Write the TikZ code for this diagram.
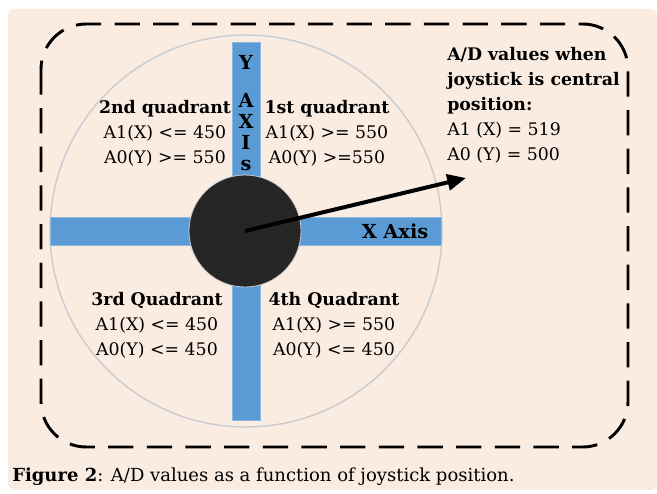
\documentclass[tikz,border=0pt]{standalone}
\usepackage{fontspec}
\setmainfont{DejaVu Serif}
\usetikzlibrary{arrows.meta,positioning}
\definecolor{pagefill}{HTML}{FBECE2}
\definecolor{axisblue}{HTML}{5B9BD5}
\definecolor{rimgray}{HTML}{C9CDD1}
\definecolor{knobfill}{HTML}{262626}

\begin{document}
\begin{tikzpicture}[x=0.75pt, y=-0.75pt,
  txt/.style={align=center, inner sep=0pt, font=\fontsize{13}{18.75}\selectfont},
  axtxt/.style={inner sep=0pt, font=\fontsize{14.5}{15.75}\selectfont\bfseries, align=center},
  bar/.style={fill=axisblue, draw=axisblue!70!white, line width=0.4pt, inner sep=0pt},
  arr/.style={-{Triangle[length=14pt, width=12pt]}, line width=3pt, black}
]
  \useasboundingbox (0,0) rectangle (657,493);
  \fill[pagefill, rounded corners=5pt] (8,9) rectangle (657,490);
  \draw[line width=2.2pt, dash pattern=on 19pt off 10pt, rounded corners=34pt] (41,24) rectangle (628,447);

  % wheel and axes
  \node[circle, draw=rimgray, line width=1.1pt, minimum size=294pt, inner sep=0pt] (rim) at (246,231) {};
  \node[bar, minimum width=293pt, minimum height=21pt] (xbar) at (245.5,231) {};
  \node[bar, minimum width=21pt, minimum height=283.5pt] (ybar) at (246,231) {};
  \node[circle, fill=knobfill, draw=rimgray, line width=0.6pt, minimum size=84pt, inner sep=0pt] (knob) at (245,231) {};

  \node[axtxt] (ylet) at (246,62) {Y};
  \node[axtxt] (yword) at (246,132) {A\\X\\I\\s};
  \node[axtxt] (xword) at (395,231) {X Axis};

  % quadrants
  \node[txt] (q2) at (165,133) {\textbf{2nd quadrant}\\A1(X) <= 450\\A0(Y) >= 550};
  \node[txt] (q1) at (327,133) {\textbf{1st quadrant}\\A1(X) >= 550\\A0(Y) >=550};
  \node[txt] (q3) at (157,325) {\textbf{3rd Quadrant}\\A1(X) <= 450\\A0(Y) <= 450};
  \node[txt] (q4) at (334,325) {\textbf{4th Quadrant}\\A1(X) >= 550\\A0(Y) <= 450};

  \node[txt, align=left, anchor=west] (note) at (447,105) {\textbf{A/D values when}\\\textbf{joystick is central}\\\textbf{position:}\\A1 (X) = 519\\A0 (Y) = 500};
  \coordinate (tip) at (466,178);
  \draw[arr] (knob.center) -- (tip);

  \node[txt, anchor=west, font=\fontsize{13.5}{16}\selectfont] (caption) at (12,477) {\textbf{Figure 2}: A/D values as a function of joystick position.};
\end{tikzpicture}
\end{document}
